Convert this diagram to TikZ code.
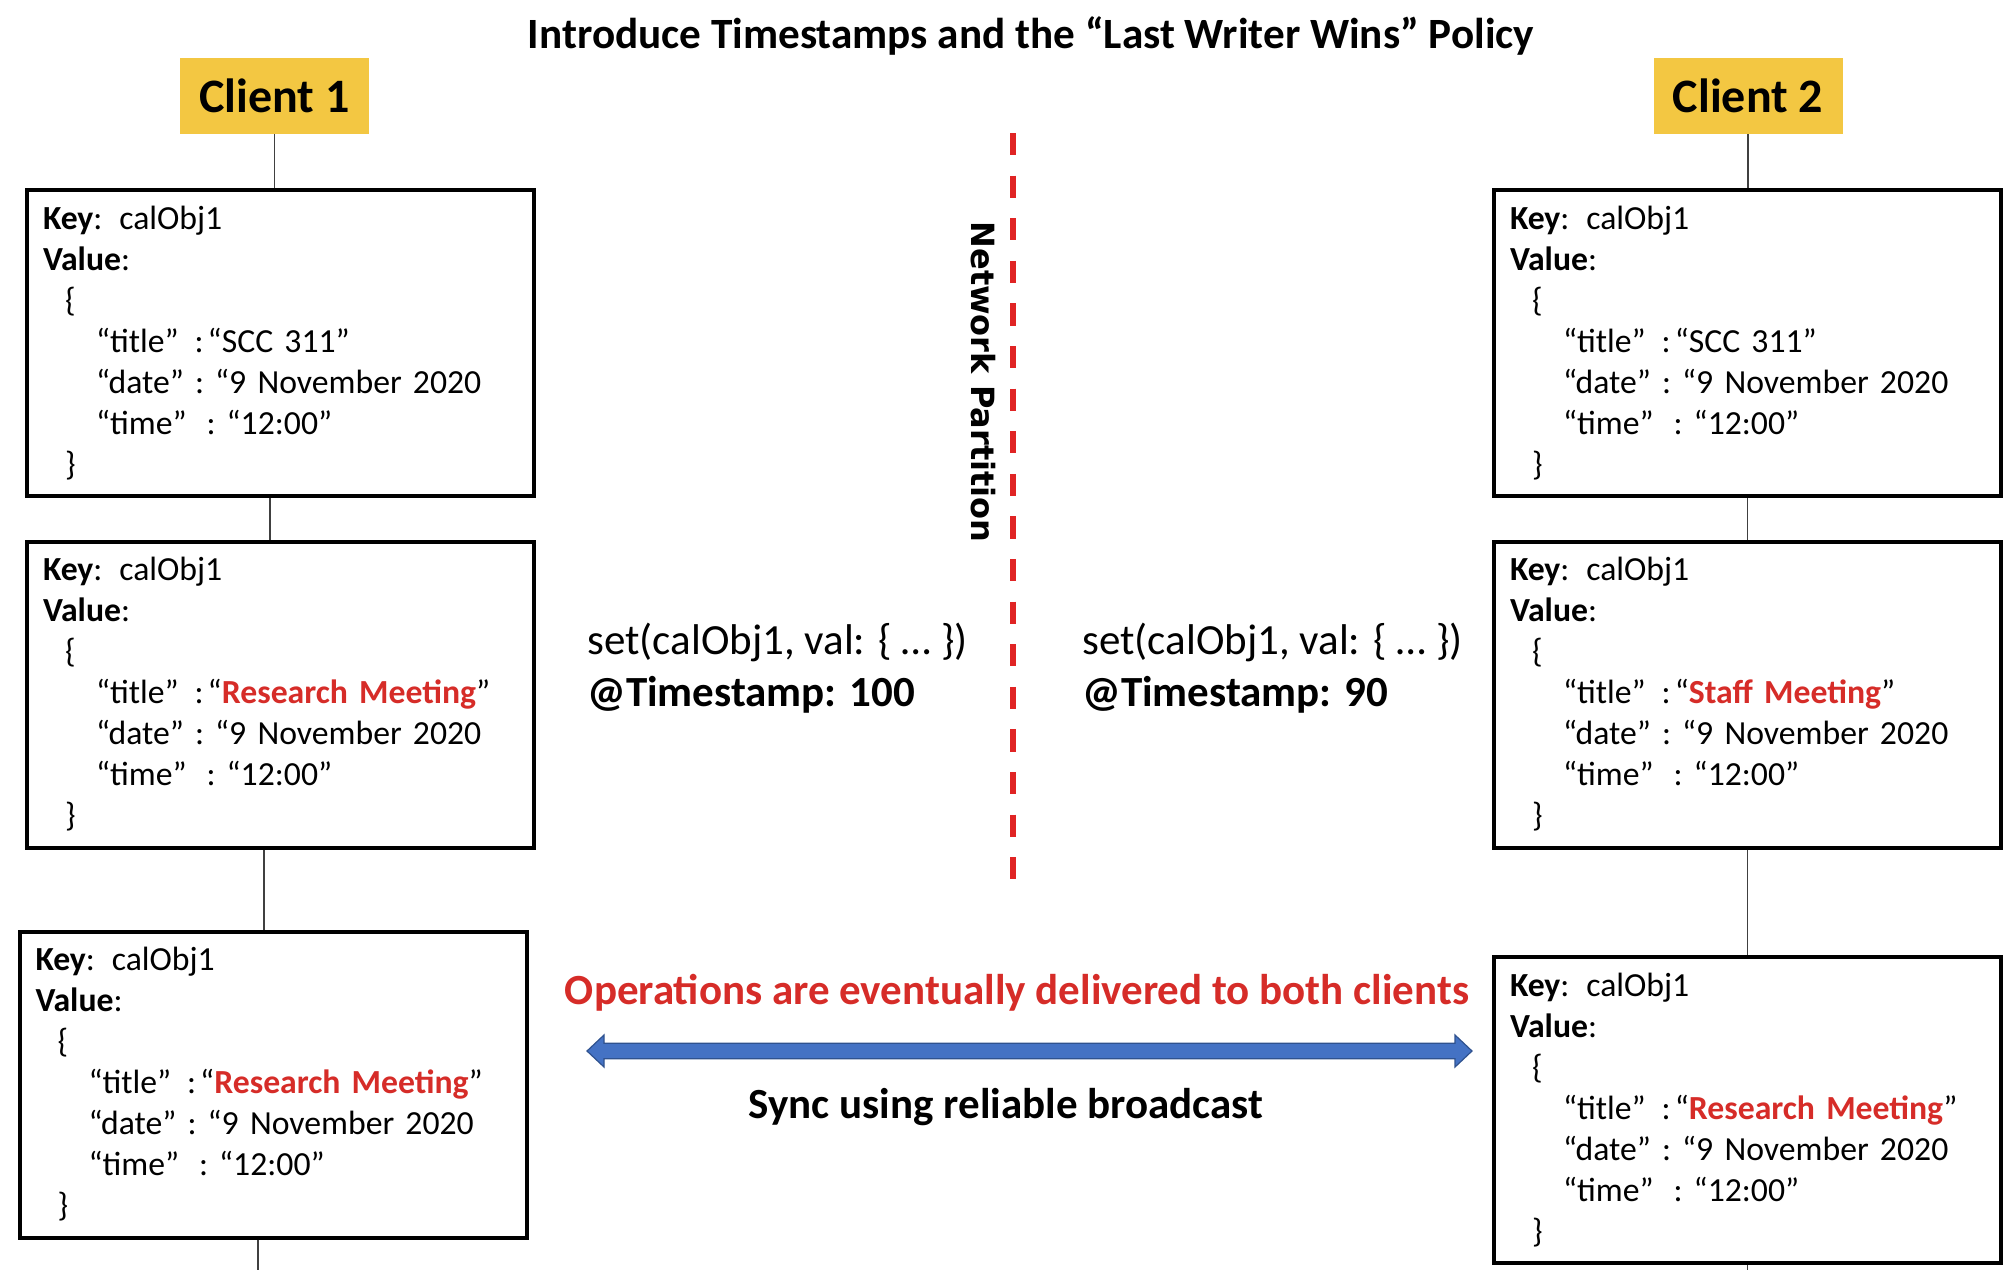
\documentclass[tikz,border=0pt]{standalone}
\usepackage{fontspec}
\setmainfont{Carlito}
\newfontfamily\npfont{DejaVu Sans}
\usetikzlibrary{calc}
\definecolor{cyellow}{RGB}{243,199,66}
\definecolor{cred}{RGB}{214,44,40}
\definecolor{dred}{RGB}{224,36,36}
\definecolor{ablue}{RGB}{68,114,196}
\definecolor{ablueb}{RGB}{47,82,143}
\newcommand{\hlred}[1]{\textcolor{cred}{\textbf{#1}}}
\newcommand{\kvtext}[1]{\textbf{Key}: calObj1\\
\textbf{Value}:\\
\hspace*{11pt}\{\\
\hspace*{26.5pt}“title”\hspace{8pt}:\hspace{2pt}“#1”\\
\hspace*{26.5pt}“date” :\hspace{5.5pt}“9 November 2020\\
\hspace*{26.5pt}“time”\hspace{10pt}:\hspace{5.5pt}“12:00”\\
\hspace*{11pt}\}}
\begin{document}
\begin{tikzpicture}[x=0.5pt,y=-0.5pt,
  client/.style={fill=cyellow, minimum width=94.5pt, minimum height=38pt, inner sep=0pt, font=\fontsize{24}{28}\selectfont\bfseries},
  kv/.style={draw, line width=2pt, minimum width=253.5pt, minimum height=153pt, inner xsep=8pt, inner ysep=0pt, text width=237.5pt, align=left, font=\fontsize{16.85}{20.5}\selectfont},
  link/.style={draw=black!75, line width=0.6pt},
  settext/.style={anchor=west, align=left, inner sep=0pt, font=\fontsize{21.5}{26}\selectfont},
  boldtext/.style={inner sep=0pt, font=\fontsize{21.5}{26}\selectfont\bfseries},
  partition/.style={dred, line width=3pt, dash pattern=on 11.1pt off 10.2pt}
]
\fill[white] (0,0) rectangle (2014,1270);
\useasboundingbox (0,0) rectangle (2014,1270);

\node[inner sep=0pt, font=\fontsize{21.6}{26}\selectfont\bfseries] (T) at (1031,36) {Introduce Timestamps and the “Last Writer Wins” Policy};

\node[client] (C1) at (274.5,96) {Client 1};
\node[client] (C2) at (1748,96) {Client 2};

\node[kv] (A1) at (280.5,343) {\kvtext{SCC 311}};
\node[kv] (A2) at (280.5,694.5) {\kvtext{\hlred{Research Meeting}}};
\node[kv] (A3) at (273,1084.5) {\kvtext{\hlred{Research Meeting}}};

\node[kv] (B1) at (1747.5,343) {\kvtext{SCC 311}};
\node[kv] (B2) at (1747.5,694.5) {\kvtext{\hlred{Staff Meeting}}};
\node[kv] (B3) at (1747.5,1110) {\kvtext{\hlred{Research Meeting}}};

\coordinate (endA) at (258,1270);
\coordinate (endB) at (1747.5,1270);
\draw[link] (C1.south) -- (C1.south |- A1.north);
\draw[link] ([xshift=-5.25pt]A1.south) -- ([xshift=-5.25pt]A2.north);
\draw[link] ([xshift=-8.25pt]A2.south) -- ([xshift=-4.5pt]A3.north);
\draw[link] ([xshift=-7.5pt]A3.south) -- (endA);
\draw[link] (C2.south) -- (C2.south |- B1.north);
\draw[link] (B1.south) -- (B2.north);
\draw[link] (B2.south) -- (B3.north);
\draw[link] (B3.south) -- (endB);

\coordinate (pTop) at (1013,133);
\coordinate (pBot) at (1013,880);
\draw[partition] (pTop) -- (pBot);
\node[rotate=-90, inner sep=0pt, font=\npfont\fontsize{16}{19}\selectfont\bfseries] (NP) at (983,382) {Network Partition};

\node[settext] (S1) at (587,668) {set(calObj1, val: \{ … \})\\\textbf{@Timestamp: 100}};
\node[settext] (S2) at (1082,668) {set(calObj1, val: \{ … \})\\\textbf{@Timestamp: 90}};

\node[boldtext, text=cred] (OP) at (1017,993) {Operations are eventually delivered to both clients};
\node[boldtext] (SY) at (1006,1107) {Sync using reliable broadcast};

\coordinate (aL) at (587,1051);
\coordinate (aR) at (1472,1051);
\filldraw[fill=ablue, draw=ablueb, line width=0.6pt]
  (aL) -- ++(17,-16) -- ++(0,8.2) -- ($(aR)+(-17,-7.8)$) -- ++(0,-8.2) -- (aR)
  -- ++(-17,16) -- ++(0,-8.2) -- ($(aL)+(17,7.8)$) -- ++(0,8.2) -- cycle;
\end{tikzpicture}
\end{document}
